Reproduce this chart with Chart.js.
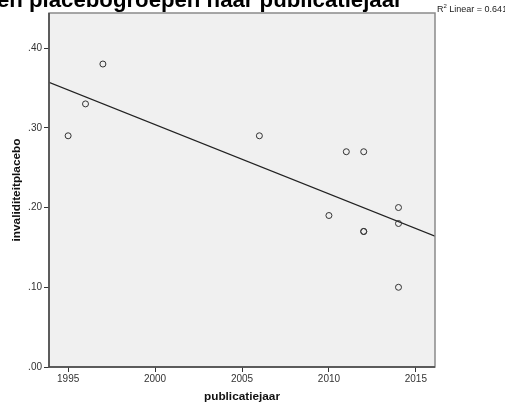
<!DOCTYPE html>
<html>
<head>
<meta charset="utf-8">
<script src="https://cdn.jsdelivr.net/npm/chart.js@4"></script>
<style>
  html, body { margin: 0; padding: 0; background: #fff; }
  #wrap { width: 505px; height: 403px; position: relative; }
</style>
</head>
<body>
<div id="wrap"><canvas id="chart" width="505" height="403"></canvas></div>
<script>
// data
const pubYears = [1995, 1996, 1997, 2006, 2010, 2011, 2012, 2012, 2012, 2014, 2014, 2014];
const invaliditeit = [0.29, 0.33, 0.38, 0.29, 0.19, 0.27, 0.27, 0.17, 0.17, 0.20, 0.18, 0.10];
const fitYears = [1993.9, 2016.1];
const fitValues = [0.357, 0.164];
const xTicks = [1995, 2000, 2005, 2010, 2015];
const yTicks = [0, 0.1, 0.2, 0.3, 0.4];
const titleText = 'en placebogroepen naar publicatiejaar';
const rSquared = '0.641';

const ctx = document.getElementById('chart').getContext('2d');

const extras = {
  id: 'extras',
  beforeDraw(chart) {
    const a = chart.chartArea, c = chart.ctx;
    c.save();
    c.fillStyle = '#f0f0f0';
    c.fillRect(a.left, a.top, a.right - a.left, a.bottom - a.top);
    c.restore();
  },
  afterDraw(chart) {
    const a = chart.chartArea, c = chart.ctx;
    c.save();
    // frame
    c.strokeStyle = '#8a8a8a';
    c.lineWidth = 1.5;
    c.strokeRect(a.left, a.top, a.right - a.left, a.bottom - a.top);
    c.strokeStyle = '#444';
    c.beginPath();
    c.moveTo(a.left, a.top); c.lineTo(a.left, a.bottom); c.lineTo(a.right, a.bottom);
    c.stroke();

    // title (cut off at top like the original)
    let size = 22;
    c.font = 'bold ' + size + 'px "Liberation Sans", Arial, sans-serif';
    size = size * 406 / c.measureText(titleText).width;
    c.font = 'bold ' + size.toFixed(1) + 'px "Liberation Sans", Arial, sans-serif';
    c.fillStyle = '#000';
    c.textBaseline = 'alphabetic';
    c.textAlign = 'left';
    c.fillText(titleText, -3, 7);

    // R2 label
    c.font = '9px "Liberation Sans", Arial, sans-serif';
    c.fillStyle = '#222';
    c.fillText('R', a.right + 2, 12);
    let w = c.measureText('R').width;
    c.font = '6px "Liberation Sans", Arial, sans-serif';
    c.fillText('2', a.right + 2 + w, 8);
    let w2 = c.measureText('2').width;
    c.font = '9px "Liberation Sans", Arial, sans-serif';
    c.fillText(' Linear = ' + rSquared, a.right + 2 + w + w2, 12);

    // axis titles
    c.font = 'bold 11.8px "Liberation Sans", Arial, sans-serif';
    c.fillStyle = '#111';
    c.textAlign = 'center';
    c.textBaseline = 'middle';
    c.fillText('publicatiejaar', (a.left + a.right) / 2, 397);
    c.translate(17, (a.top + a.bottom) / 2);
    c.rotate(-Math.PI / 2);
    c.fillText('invaliditeitplacebo', 0, 0);
    c.restore();
  }
};

new Chart(ctx, {
  type: 'scatter',
  data: {
    datasets: [
      {
        label: 'invaliditeitplacebo',
        data: pubYears.map((x, i) => ({ x: x, y: invaliditeit[i] })),
        pointRadius: 3,
        pointHoverRadius: 3,
        pointBackgroundColor: 'rgba(0,0,0,0)',
        pointBorderColor: '#333',
        pointBorderWidth: 1,
        showLine: false
      },
      {
        label: 'fit',
        data: fitYears.map((x, i) => ({ x: x, y: fitValues[i] })),
        showLine: true,
        borderColor: '#222',
        borderWidth: 1.2,
        pointRadius: 0,
        fill: false
      }
    ]
  },
  options: {
    responsive: false,
    animation: false,
    layout: { padding: { left: 0, top: 13, right: 70, bottom: 0 } },
    plugins: { legend: { display: false }, tooltip: { enabled: false }, title: { display: false } },
    scales: {
      x: {
        type: 'linear',
        min: 1993.9,
        max: 2016.1,
        afterBuildTicks: s => { s.ticks = xTicks.map(v => ({ value: v })); },
        afterFit: s => { s.height = 36; },
        grid: { display: true, drawOnChartArea: false, drawTicks: true, tickLength: 5, color: '#333' },
        border: { display: false },
        ticks: {
          color: '#333',
          font: { family: '"Liberation Sans", Arial, sans-serif', size: 10 },
          padding: 1,
          maxRotation: 0,
          callback: v => String(v)
        }
      },
      y: {
        type: 'linear',
        min: 0,
        max: 0.444,
        afterBuildTicks: s => { s.ticks = yTicks.map(v => ({ value: v })); },
        afterFit: s => { s.width = 49; },
        grid: { display: true, drawOnChartArea: false, drawTicks: true, tickLength: 5, color: '#333' },
        border: { display: false },
        ticks: {
          color: '#333',
          font: { family: '"Liberation Sans", Arial, sans-serif', size: 10 },
          padding: 2,
          callback: v => v.toFixed(2).replace(/^0/, '')
        }
      }
    }
  },
  plugins: [extras]
});
</script>
</body>
</html>
